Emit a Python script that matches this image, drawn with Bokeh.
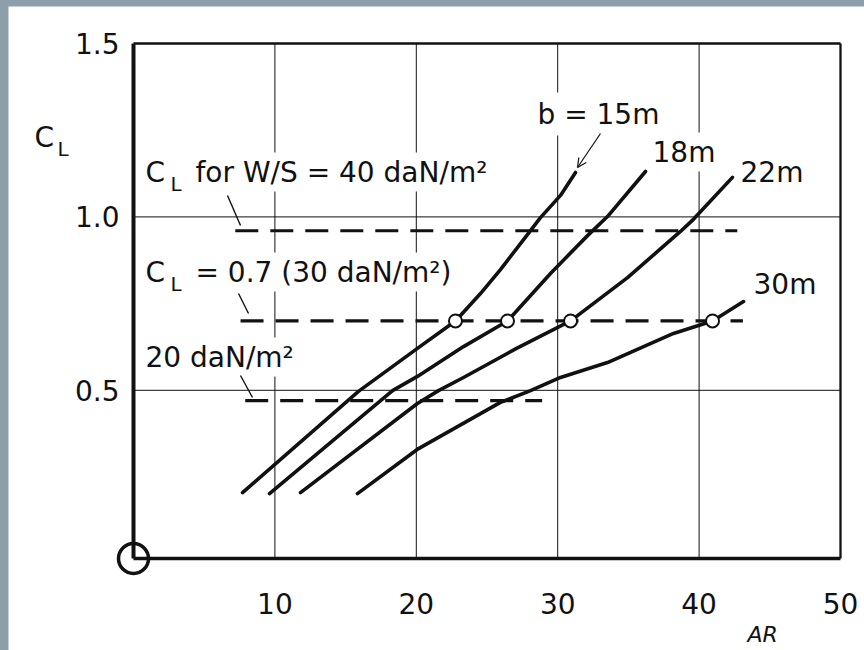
from bokeh.plotting import figure
from bokeh.models import Label, Arrow, OpenHead, FixedTicker, Range1d, PrintfTickFormatter
from bokeh.layouts import column
from bokeh.embed import file_html
from bokeh.resources import INLINE

FONT = "DejaVu Sans"
INK = "#111111"
PAGE_BG = "#8c9fab"

# ---------------- data ----------------
span_labels = ["b = 15m", "18m", "22m", "30m"]

ar_b15 = [7.71, 15.91, 20.08, 22.77, 24.54, 25.95, 27.86, 28.78, 30.20, 31.26]
cl_b15 = [0.205, 0.497, 0.621, 0.700, 0.779, 0.848, 0.949, 0.998, 1.062, 1.128]

ar_b18 = [9.62, 18.32, 20.08, 23.34, 26.45, 29.49, 32.11, 33.52, 36.21]
cl_b18 = [0.202, 0.499, 0.540, 0.626, 0.700, 0.837, 0.946, 1.001, 1.131]

ar_b22 = [11.81, 20.08, 21.57, 23.34, 27.09, 30.91, 34.94, 38.68, 39.60, 42.36]
cl_b22 = [0.205, 0.462, 0.499, 0.537, 0.621, 0.700, 0.825, 0.958, 0.993, 1.114]

ar_b30 = [15.84, 20.16, 25.95, 28.08, 30.20, 33.52, 38.19, 40.95, 43.14]
cl_b30 = [0.202, 0.332, 0.465, 0.499, 0.537, 0.580, 0.664, 0.700, 0.756]

design_ar = [22.77, 26.45, 30.91, 40.95]
design_cl = [0.70, 0.70, 0.70, 0.70]

ws_labels = ["for W/S = 40 daN/m\u00b2", "= 0.7 (30 daN/m\u00b2)", "20 daN/m\u00b2"]
ws_cl = [0.96, 0.70, 0.47]
ws_ar_start = [7.2, 7.57, 7.9]
ws_ar_end = [42.7, 43.1, 28.9]

x_ticks = [10, 20, 30, 40, 50]
y_ticks = [0.5, 1.0, 1.5]
x_bounds = (0.0, 50.0)
y_bounds = (0.015, 1.5)

# ---------------- geometry (page pixels <-> data) ----------------
W, H = 856, 644
OX, OY = 8, 6
PX_X0, PX_X1 = 133, 840     # page x of x_bounds
PX_Y0, PX_Y1 = 558, 43      # page y of y_bounds


def px2x(px):
    return x_bounds[0] + (px - PX_X0) * (x_bounds[1] - x_bounds[0]) / (PX_X1 - PX_X0)


def py2y(py):
    return y_bounds[0] + (PX_Y0 - py) * (y_bounds[1] - y_bounds[0]) / (PX_Y0 - PX_Y1)


p = figure(width=W, height=H, output_backend="svg", toolbar_location=None,
           x_range=Range1d(px2x(OX), px2x(OX + W)),
           y_range=Range1d(py2y(OY + H), py2y(OY)),
           min_border=0)
p.margin = (OY, 0, 0, OX)
p.background_fill_color = "white"
p.border_fill_color = "white"
p.outline_line_color = None
p.xgrid.grid_line_color = None
p.ygrid.grid_line_color = None

for ax, ticks in ((p.xaxis, x_ticks), (p.yaxis, y_ticks)):
    ax.ticker = FixedTicker(ticks=ticks)
    ax.major_tick_out = 0
    ax.major_tick_in = 0
    ax.minor_tick_out = 0
    ax.minor_tick_in = 0
    ax.axis_line_color = INK
    ax.major_label_text_font = FONT
    ax.major_label_text_font_size = "28px"
    ax.major_label_text_color = INK
p.xaxis.fixed_location = y_bounds[0]
p.yaxis.fixed_location = x_bounds[0]
p.xaxis.bounds = x_bounds
p.yaxis.bounds = y_bounds
p.yaxis.formatter = PrintfTickFormatter(format="%.1f")
p.xaxis.axis_line_width = 3.5
p.yaxis.axis_line_width = 4
p.xaxis.major_label_standoff = 34
p.yaxis.major_label_standoff = 14

# grid lines at the tick values, limited to the box
gx = [t for t in x_ticks if t < x_bounds[1]]
gy = [t for t in y_ticks if t < y_bounds[1]]
p.segment(x0=gx, y0=[y_bounds[0]] * len(gx), x1=gx, y1=[y_bounds[1]] * len(gx),
          line_color=INK, line_width=1)
p.segment(x0=[x_bounds[0]] * len(gy), y0=gy, x1=[x_bounds[1]] * len(gy), y1=gy,
          line_color=INK, line_width=1)
# top and right edges of the box
p.segment(x0=[x_bounds[0], x_bounds[1]], y0=[y_bounds[1], y_bounds[0]],
          x1=[x_bounds[1], x_bounds[1]], y1=[y_bounds[1], y_bounds[1]],
          line_color=INK, line_width=2.3)

# W/S reference lines
p.segment(x0=ws_ar_start, y0=ws_cl, x1=ws_ar_end, y1=ws_cl,
          line_color=INK, line_width=3.2, line_dash="23 12")

# curves
for xs, ys in ((ar_b15, cl_b15), (ar_b18, cl_b18), (ar_b22, cl_b22), (ar_b30, cl_b30)):
    p.line(xs, ys, line_color=INK, line_width=3.6, line_cap="round", line_join="round")

p.scatter(design_ar, design_cl, size=13, fill_color="white", line_color=INK, line_width=2)
p.scatter([x_bounds[0]], [y_bounds[0]], size=30, fill_color="white", line_color=INK, line_width=3.5)


def lab(text, px, py, size=28, bg=True, style="normal", pad=3):
    # px: left edge of glyphs, py: glyph baseline (page pixels)
    kw = dict(x=px2x(px - (pad if bg else 0)), y=py2y(py - 0.41 * size),
              text=text, text_font=FONT,
              text_font_size=f"{size}px", text_color=INK, text_font_style=style,
              text_baseline="alphabetic", text_align="left")
    if bg:
        kw.update(background_fill_color="white", padding=pad)
    p.add_layout(Label(**kw))


# y-axis name C_L
lab("L", 57, 157, size=20, bg=False)
lab("C", 34, 148, bg=False)
# x-axis name
lab("AR", 747, 643, size=22, bg=False, style="italic")

# W/S labels
lab("L", 170, 192, size=20, pad=0)
lab("C", 145, 183, pad=0)
lab(ws_labels[0], 195, 183)
lab("L", 170, 292, size=20, pad=0)
lab("C", 145, 283, pad=0)
lab(ws_labels[1], 195, 283)
lab(ws_labels[2], 145, 368)

# span labels
lab(span_labels[0], 537, 125, pad=5)
lab(span_labels[1], 652, 163)
lab(span_labels[2], 740, 183)
lab(span_labels[3], 753, 295)

# pointers
for (a, b, c, d) in ((227, 195, 240, 225), (238, 293, 248, 313), (240, 375, 252, 397)):
    p.add_layout(Arrow(end=None, x_start=px2x(a), y_start=py2y(b), x_end=px2x(c), y_end=py2y(d),
                       line_color=INK, line_width=1.4))
p.add_layout(Arrow(end=OpenHead(size=9, line_width=1.2, line_color=INK),
                   x_start=px2x(600), y_start=py2y(133), x_end=px2x(577), y_end=py2y(167),
                   line_color=INK, line_width=1.2))

root = column(p, width=864, height=650, styles={"background-color": PAGE_BG})

open("out.html", "w").write(file_html(root, INLINE))
